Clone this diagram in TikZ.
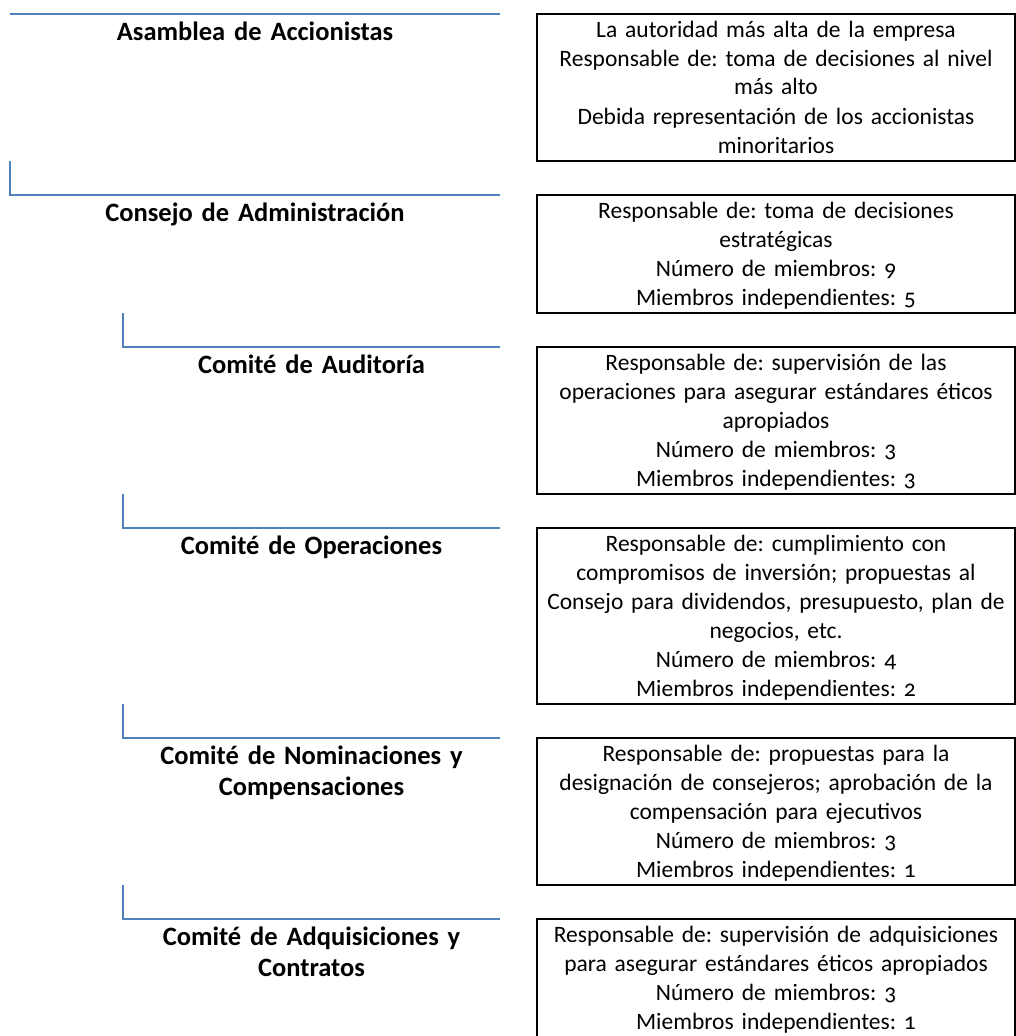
\documentclass[tikz,border=0pt]{standalone}
\usepackage{fontspec}
\setmainfont{Carlito}[Numbers=OldStyle, WordSpace=0.75]
\usetikzlibrary{positioning}
\definecolor{linkblue}{HTML}{4F81BD}
\frenchspacing
\begin{document}
\begin{tikzpicture}[x=1pt, y=-1pt, node distance=34pt,
  infobox/.style={draw=black, line width=2pt, outer sep=0pt, inner xsep=4pt, inner ysep=1pt,
    text width=470pt, align=center, font=\fontsize{23.5}{29}\selectfont,
    execute at begin node=\rule{0pt}{22pt}, execute at end node=\rule[-7pt]{0pt}{7pt}},
  heading/.style={outer sep=0pt, inner sep=0pt, align=center, anchor=north west,
    font=\fontsize{26.5}{31}\selectfont\bfseries, execute at begin node=\rule{0pt}{26pt}},
  top/.style={heading, text width=490pt},
  sub/.style={heading, text width=377pt},
  link/.style={draw=linkblue, line width=2pt}]
  \useasboundingbox (0,0) rectangle (1016,1036);
  \coordinate (LevelA) at (10,0);
  \coordinate (LevelB) at (123,0);
  \node [infobox, anchor=north west] (InfoAsamblea) at (537,14) {La autoridad más alta de la empresa\\
    Responsable de: toma de decisiones al nivel\\ más alto\\
    Debida representación de los accionistas\\ minoritarios};
  \node [infobox, below=of InfoAsamblea] (InfoConsejo) {Responsable de: toma de decisiones\\
    estratégicas\\ Número de miembros: 9\\ Miembros independientes: 5};
  \node [infobox, below=of InfoConsejo] (InfoAuditoria) {Responsable de: supervisión de las\\
    operaciones para asegurar estándares éticos\\ apropiados\\
    Número de miembros: 3\\ Miembros independientes: 3};
  \node [infobox, below=of InfoAuditoria] (InfoOperaciones) {Responsable de: cumplimiento con\\
    compromisos de inversión; propuestas al\\ Consejo para dividendos, presupuesto, plan de\\
    negocios, etc.\\ Número de miembros: 4\\ Miembros independientes: 2};
  \node [infobox, below=of InfoOperaciones] (InfoNominaciones) {Responsable de: propuestas para la\\
    designación de consejeros; aprobación de la\\ compensación para ejecutivos\\
    Número de miembros: 3\\ Miembros independientes: 1};
  \node [infobox, below=of InfoNominaciones] (InfoAdquisiciones) {Responsable de: supervisión de adquisiciones\\
    para asegurar estándares éticos apropiados\\
    Número de miembros: 3\\ Miembros independientes: 1};

  \node [top] (Asamblea) at (LevelA |- InfoAsamblea.north) {Asamblea de Accionistas};
  \node [top] (Consejo) at (LevelA |- InfoConsejo.north) {Consejo de Administración};
  \node [sub] (Auditoria) at (LevelB |- InfoAuditoria.north) {Comité de Auditoría};
  \node [sub] (Operaciones) at (LevelB |- InfoOperaciones.north) {Comité de Operaciones};
  \node [sub] (Nominaciones) at (LevelB |- InfoNominaciones.north) {Comité de Nominaciones y\\ Compensaciones};
  \node [sub] (Adquisiciones) at (LevelB |- InfoAdquisiciones.north) {Comité de Adquisiciones y\\ Contratos};

  \draw [link] (Asamblea.north west) -- (Asamblea.north east);
  \draw [link] (Consejo.north west |- InfoAsamblea.south) |- (Consejo.north east);
  \draw [link] (Auditoria.north west |- InfoConsejo.south) |- (Auditoria.north east);
  \draw [link] (Operaciones.north west |- InfoAuditoria.south) |- (Operaciones.north east);
  \draw [link] (Nominaciones.north west |- InfoOperaciones.south) |- (Nominaciones.north east);
  \draw [link] (Adquisiciones.north west |- InfoNominaciones.south) |- (Adquisiciones.north east);
\end{tikzpicture}
\end{document}
